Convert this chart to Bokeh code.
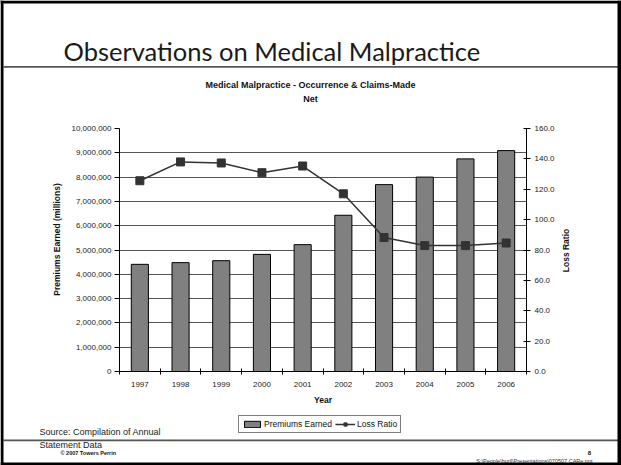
import math
from bokeh.plotting import figure
from bokeh.models import (LinearAxis, Range1d, FixedTicker, NumeralTickFormatter,
                          Legend, LegendItem, Grid)
from bokeh.core.properties import value
from bokeh.embed import file_html
from bokeh.resources import INLINE

# ---- data ----
years = [1997, 1998, 1999, 2000, 2001, 2002, 2003, 2004, 2005, 2006]
premiums = [4410000, 4480000, 4560000, 4820000, 5220000, 6430000, 7690000, 8000000, 8750000, 9090000]
loss_ratio = [125.6, 138.0, 137.3, 130.9, 135.3, 117.0, 88.2, 82.9, 82.9, 84.6]
left_ticks = [0, 1000000, 2000000, 3000000, 4000000, 5000000, 6000000, 7000000, 8000000, 9000000, 10000000]
right_ticks = [0, 20, 40, 60, 80, 100, 120, 140, 160]

W, H = 621, 465
FL, FR, FT, FB = 119, 526, 128, 371  # chart frame edges in page px
FONT = "Liberation Sans"
BAR_FILL = "#808080"
LINE_COL = "#333333"

# ---------- slide background (page decorations, texts, legend) ----------
bg = figure(width=W, height=H, output_backend="svg", toolbar_location=None,
            x_range=Range1d(0, W), y_range=Range1d(H, 0),
            x_axis_type=None, y_axis_type=None,
            min_border=0, min_border_left=0, min_border_right=0,
            min_border_top=0, min_border_bottom=0)
bg.outline_line_color = None
bg.background_fill_color = "white"
bg.border_fill_color = "white"
bg.xgrid.visible = False
bg.ygrid.visible = False

# rules
bg.quad(left=[3, 3], right=[618, 618], top=[65.5, 439], bottom=[67.2, 440.7],
        fill_color="#555555", line_color=None)


def txt(texts, xs, ys, size, bold=False, align="center", angle=0.0, font=FONT, color="#111111"):
    bg.text(x=xs, y=ys, text=texts, text_font=value(font), text_font_size=size,
            text_font_style="bold" if bold else "normal", text_align=align,
            text_baseline="middle", angle=angle, text_color=color)


txt(["Observations on Medical Malpractice"], [63], [50], "25.5px", align="left", font="Lato", color="#1a1a1a")
txt(["Medical Malpractice - Occurrence & Claims-Made", "Net"], [310, 310], [84, 98], "9px", bold=True)
txt(["Premiums Earned (millions)"], [56], [239], "8.5px", bold=True, angle=math.pi / 2)
txt(["Loss Ratio"], [565], [250], "8.5px", bold=True, angle=math.pi / 2)
txt(["Year"], [322.5], [399], "8.5px", bold=True)
txt(["Source: Compilation of Annual", "Statement Data"], [39, 39], [431, 444], "9px", align="left", color="#222222")
txt(["\u00a9 2007 Towers Perrin"], [60], [452], "5.5px", bold=True, align="left")
txt(["8"], [589], [452], "6px", bold=True)
txt(["S:\\People\\hurll\\Presentations\\070507 CARe.ppt"], [592], [460.5], "5.5px", align="right", color="#333333")

# slide border
bg.quad(left=[0, 0, 617, 0], right=[621, 3, 621, 621], top=[0, 0, 0, 462], bottom=[3, 465, 465, 465],
        fill_color="black", line_color=None)

# legend keys: proxy renderers styled like the chart's series, placed outside the visible page
OFF = -100
key_bar = bg.vbar(x=[OFF], top=[OFF], bottom=[OFF - 10], width=1, fill_color=BAR_FILL,
                  line_color="black", line_width=1)
key_line = bg.line(x=[OFF, OFF - 10], y=[OFF, OFF], line_color=LINE_COL, line_width=1.5)
key_mark = bg.scatter(x=[OFF], y=[OFF], marker="square", size=7, fill_color=LINE_COL, line_color=LINE_COL)
legend = Legend(items=[LegendItem(label="Premiums Earned", renderers=[key_bar], index=0),
                       LegendItem(label="Loss Ratio", renderers=[key_line, key_mark], index=0)],
                orientation="horizontal", location=(238, H - 433),
                label_text_font=FONT, label_text_font_size="8.5px", label_text_color="#111111",
                glyph_width=20, glyph_height=8, label_standoff=2, spacing=3,
                padding=3, margin=0, label_height=10, label_width=10,
                border_line_color="black", border_line_width=1, background_fill_color="white")
bg.add_layout(legend, "center")

# ---------- chart (overlaid on the slide) ----------
p = figure(width=W, height=H, output_backend="svg", toolbar_location=None,
           x_range=Range1d(1996.5, 2006.5), y_range=Range1d(0, 10000000),
           min_border_left=FL, min_border_right=W - FR,
           min_border_top=FT, min_border_bottom=H - FB,
           x_axis_type=None, y_axis_type=None,
           styles={"position": "absolute", "top": "0px", "left": "0px", "z-index": "1"})
p.extra_y_ranges = {"lr": Range1d(0, 160)}
p.outline_line_color = None
p.background_fill_color = "white"
p.border_fill_color = None

xax = LinearAxis(ticker=FixedTicker(ticks=years, minor_ticks=[y - 0.5 for y in years] + [2006.5]))
xax.major_tick_line_color = None
xax.major_tick_in = 0
xax.major_tick_out = 0
xax.minor_tick_in = 3
xax.minor_tick_out = 3
xax.minor_tick_line_color = "black"
xax.axis_line_color = "black"
xax.major_label_standoff = 7
xax.major_label_text_font = FONT
xax.major_label_text_font_size = "8px"
xax.major_label_text_color = "#222222"
p.add_layout(xax, "below")

yax = LinearAxis(ticker=FixedTicker(ticks=left_ticks), formatter=NumeralTickFormatter(format="0,0"))
yax.major_tick_in = 0
yax.major_tick_out = 5
yax.minor_tick_line_color = None
yax.axis_line_color = "black"
yax.major_label_standoff = 3
yax.major_label_text_font = FONT
yax.major_label_text_font_size = "8px"
yax.major_label_text_color = "#222222"
p.add_layout(yax, "left")

rax = LinearAxis(y_range_name="lr", ticker=FixedTicker(ticks=right_ticks),
                 formatter=NumeralTickFormatter(format="0.0"))
rax.major_tick_in = 3
rax.major_tick_out = 4
rax.minor_tick_line_color = None
rax.axis_line_color = "black"
rax.major_label_standoff = 4
rax.major_label_text_font = FONT
rax.major_label_text_font_size = "8px"
rax.major_label_text_color = "#222222"
p.add_layout(rax, "right")

p.add_layout(Grid(dimension=1, ticker=yax.ticker, grid_line_color="#555555", grid_line_width=1))

bars = p.vbar(x=years, top=premiums, width=0.42, fill_color=BAR_FILL, line_color="black", line_width=1)
ln = p.line(x=years, y=loss_ratio, y_range_name="lr", line_color=LINE_COL, line_width=1.5)
mk = p.scatter(x=years, y=loss_ratio, y_range_name="lr", marker="square", size=8,
               fill_color=LINE_COL, line_color=LINE_COL)

open("out.html", "w").write(file_html([bg, p], INLINE))
